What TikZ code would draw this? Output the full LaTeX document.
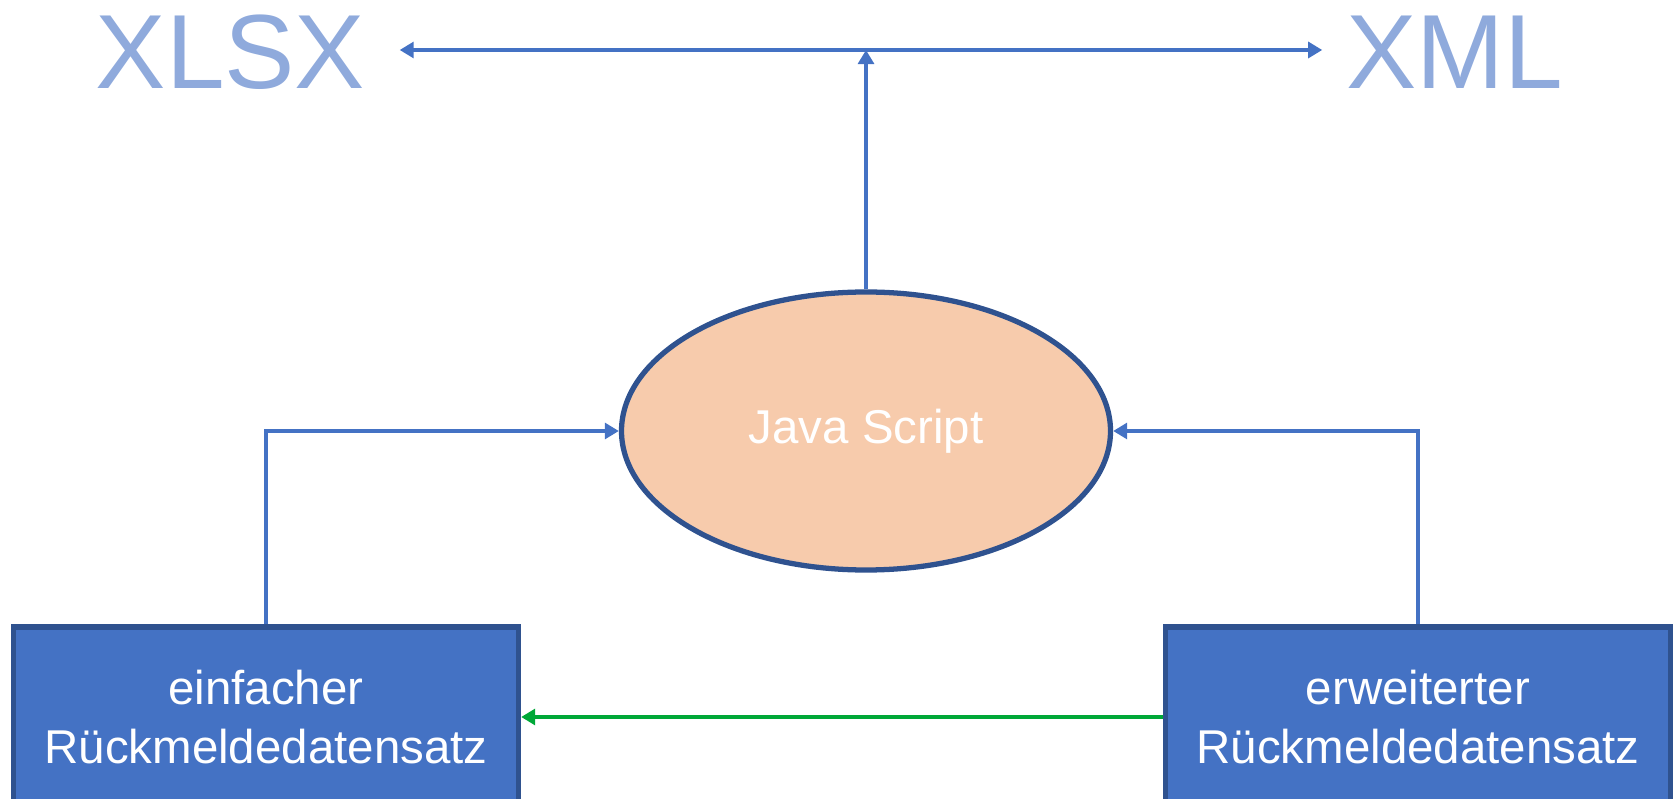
\documentclass[tikz,border=0pt]{standalone}
\usepackage{fontspec}
\setmainfont{Liberation Sans}
\usepackage{xcolor}
\usetikzlibrary{arrows.meta, shapes.geometric, positioning}

\definecolor{lineblue}{HTML}{4472C4}
\definecolor{darkblue}{HTML}{2F528F}
\definecolor{lightblue}{HTML}{8FAADC}
\definecolor{peach}{HTML}{F7CBAC}
\definecolor{feedgreen}{HTML}{00A838}

\tikzset{
	format/.style = {inner sep = 0, text = lightblue, font = \fontsize{60}{60}\selectfont},
	datensatz/.style = {draw = darkblue, line width = 3pt, fill = lineblue, text = white, align = center,
		minimum width = 10.1cm, minimum height = 3.6cm, font = \fontsize{27}{33.5}\selectfont},
	link/.style = {draw = lineblue, line width = 2.6pt, -{Triangle[length = 8pt, width = 9pt]}},
	feedback/.style = {link, draw = feedgreen}
}

\begin{document}
\begin{tikzpicture}
							\useasboundingbox (0,0) rectangle (33.46,15.96);

							\node [format] (xlsx) at (4.61,14.92) {XLSX};
							\node [format] (xml) at (29.10,14.92) {XML};

							\node [ellipse, draw = darkblue, line width = 3pt, fill = peach, text = white, inner sep = 0,
								minimum width = 9.78cm, minimum height = 5.56cm, font = \fontsize{27}{33}\selectfont]
								(js) at (17.32,7.34) {Java Script};

							\node [datensatz] (einfach) at (5.32,1.62) {einfacher\\R\"uckmeldedatensatz};
							\node [datensatz] (erweitert) at (28.36,1.62) {erweiterter\\R\"uckmeldedatensatz};

							\coordinate (hub) at (17.32,14.96);

							\draw [link] (js.north) -- (hub);
							\draw [link, shorten > = 0.68cm] (hub) -- (xlsx.east |- hub);
							\draw [link, shorten > = 0.48cm] (hub) -- (xml.west |- hub);

							\draw [link] (einfach.north) |- (js.west);
							\draw [link] (erweitert.north) |- (js.east);

							\draw [feedback] (erweitert.west) -- (einfach.east);
						\end{tikzpicture}
\end{document}
